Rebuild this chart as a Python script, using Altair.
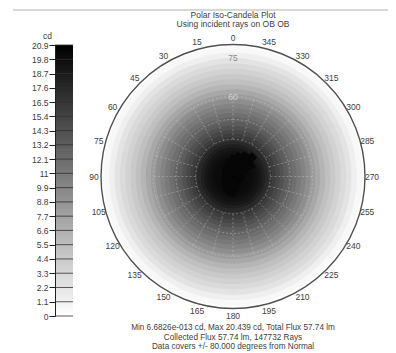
import math
import altair as alt
import pandas as pd

# ---------------- data ----------------
# polar angle from normal (deg) and candela value of the (nearly radial) distribution
profile_deg = [0, 2, 4, 6, 8, 10, 12, 14, 16, 18,
               20, 22, 24, 26, 28, 30, 32, 34, 36, 38,
               40, 42, 44, 46, 48, 50, 52, 54, 56, 58,
               60, 62, 64, 66, 68, 70, 72, 74, 76, 78, 80]
profile_cd = [20.0, 20.0, 20.0, 20.0, 20.0, 20.0, 20.0, 20.0, 20.0, 20.0,
              20.0, 20.0, 20.0, 20.0, 19.9, 19.7, 19.4, 19.0, 18.4, 17.6,
              16.7, 15.9, 15.1, 14.3, 13.4, 12.6, 11.8, 11.0, 10.2, 9.3,
              8.2, 7.1, 6.1, 5.2, 4.4, 3.7, 3.0, 2.3, 1.3, 0.6, 0.2]

# darkest core (peak value) outline: azimuth (deg, ccw from top) and polar extent (deg)
core_cd = 20.439
core_az = [0, 15, 30, 45, 60, 75, 90, 105, 120, 135, 150, 165,
           180, 195, 210, 225, 240, 255, 270, 285, 300, 315, 330, 345]
core_extent = [30.3, 28.0, 25.8, 24.0, 22.5, 21.4, 21.4, 22.0, 23.5, 25.0, 27.0, 28.5,
               28.9, 25.8, 22.3, 20.4, 20.9, 21.4, 22.3, 25.8, 32.0, 36.0, 34.0, 32.0]

legend_ticks = [0, 1.1, 2.2, 3.3, 4.4, 5.5, 6.6, 7.7, 8.8, 9.9, 11,
                12.1, 13.2, 14.3, 15.4, 16.5, 17.6, 18.7, 19.8, 20.9]
legend_unit = "cd"
azimuth_labels = list(range(0, 360, 15))
grid_ring_deg = [40, 50, 60]
spoke_range_deg = [40, 60]
radial_labels = [75, 60]
data_limit_deg = 80
title_lines = ["Polar Iso-Candela Plot", "Using incident rays on OB OB"]
footer_lines = ["Min 6.6826e-013 cd, Max 20.439 cd, Total Flux 57.74 lm",
                "Collected Flux 57.74 lm, 147732 Rays",
                "Data covers +/- 80.000 degrees from Normal"]

# ---------------- layout ----------------
W, H = 380, 343
CX, CY, R = 225, 168.5, 132
BAR_X0, BAR_X1 = 47, 65
FONT = "Liberation Sans"
TXT = "#404040"
CD_MAX = legend_ticks[-1]
PMAX = 1 - math.cos(math.radians(data_limit_deg))
PROJ = "1 - cos({} * PI / 180)"

rscale = alt.Scale(type="linear", domain=[0, PMAX], range=[0, R], zero=True, nice=False)
cscale = alt.Scale(domain=[0, CD_MAX], range=["#ffffff", "#000000"], interpolate="rgb")
cdscale = alt.Scale(domain=[0, CD_MAX], range=[308, 37], nice=False, zero=True)
tscale = alt.Scale(domain=[0, 360], range=[0, 2 * math.pi])
center = dict(x=alt.value(CX), y=alt.value(CY))
FULL = dict(theta=0, theta2=2 * math.pi)


def rad(field="rr:Q"):
    return alt.Radius(field, scale=rscale, stack=False)


# heat map: concentric discs, largest drawn first
heat_df = pd.DataFrame({"deg": profile_deg, "cd": profile_cd}).iloc[::-1].reset_index(drop=True)
heat = alt.Chart(heat_df).transform_calculate(
    outer=f"min(datum.deg + 1, {data_limit_deg})"
).transform_calculate(
    rr=PROJ.format("datum.outer")
).mark_arc(**FULL).encode(
    **center,
    radius=rad(),
    color=alt.Color("cd:Q", scale=cscale, legend=None),
    order=alt.Order("deg:Q", sort="descending"),
)

# darkest core: wedges of 15 degrees azimuth
core_df = pd.DataFrame({"az": core_az, "ext": core_extent, "cd": [core_cd] * len(core_az)})
core = alt.Chart(core_df).transform_calculate(
    t0="360 - datum.az - 7.6", t1="360 - datum.az + 7.6", rr=PROJ.format("datum.ext")
).mark_arc().encode(
    **center,
    theta=alt.Theta("t0:Q", scale=tscale, stack=False), theta2="t1:Q",
    radius=rad(),
    color=alt.Color("cd:Q", scale=cscale, legend=None),
)

rings = alt.Chart(pd.DataFrame({"deg": grid_ring_deg})).transform_calculate(
    rr=PROJ.format("datum.deg")
).mark_arc(filled=False, stroke="#d8d8d8", strokeWidth=0.8, strokeDash=[2, 2],
           opacity=0.45, **FULL).encode(**center, radius=rad())

outer = alt.Chart(pd.DataFrame({"deg": [data_limit_deg]})).transform_calculate(
    rr=PROJ.format("datum.deg")
).mark_arc(filled=False, stroke="#505050", strokeWidth=1.4, **FULL).encode(
    **center, radius=rad())

# radial spokes every 15 degrees (cartesian scales centred on the polar origin)
xsc = alt.Scale(domain=[-PMAX, PMAX], range=[CX - R, CX + R], nice=False, zero=False)
ysc = alt.Scale(domain=[-PMAX, PMAX], range=[CY + R, CY - R], nice=False, zero=False)
spokes = alt.Chart(pd.DataFrame({"az": azimuth_labels})).transform_calculate(
    p0=PROJ.format(spoke_range_deg[0]), p1=PROJ.format(spoke_range_deg[1])
).transform_calculate(
    x0="-datum.p0 * sin(datum.az * PI / 180)", y0="datum.p0 * cos(datum.az * PI / 180)",
    x1="-datum.p1 * sin(datum.az * PI / 180)", y1="datum.p1 * cos(datum.az * PI / 180)",
).mark_rule(stroke="#d8d8d8", strokeWidth=0.8, strokeDash=[2, 2], opacity=0.45).encode(
    x=alt.X("x0:Q", scale=xsc, axis=None), x2="x1:Q",
    y=alt.Y("y0:Q", scale=ysc, axis=None), y2="y1:Q",
)

# azimuth labels (counter-clockwise from top)
az_text = alt.Chart(pd.DataFrame({"az": azimuth_labels})).transform_calculate(
    t="(360 - datum.az) % 360"
).mark_text(font=FONT, fontSize=8.5, color=TXT, align="center", baseline="middle").encode(
    **center,
    theta=alt.Theta("t:Q", scale=tscale, stack=False),
    radius=alt.value(139),
    text="az:N",
)

rad_text = alt.Chart(pd.DataFrame({"deg": radial_labels})).transform_calculate(
    rr=PROJ.format("datum.deg")
).mark_text(font=FONT, fontSize=8.5, align="center", baseline="middle").encode(
    **center,
    theta=alt.value(0),
    radius=rad(),
    text="deg:N",
    fill=alt.Fill("deg:N", scale=alt.Scale(domain=radial_labels, range=["#8c8c8c", "#cfcfcf"]),
                  legend=None),
)

# colour bar
bar = alt.Chart(alt.sequence(0, CD_MAX, 0.1, as_="v")).transform_calculate(
    v2=f"min(datum.v + 0.2, {CD_MAX})"
).mark_rect().encode(
    x=alt.value(BAR_X0), x2=alt.value(BAR_X1),
    y=alt.Y("v:Q", scale=cdscale, axis=alt.Axis(
        values=legend_ticks, labelExpr="'' + datum.value", offset=-BAR_X0, zindex=2,
        domain=True, domainColor="#202020", ticks=True, tickSize=6, tickColor="#202020",
        labelFont=FONT, labelFontSize=8.5, labelColor=TXT, labelPadding=1,
        labelFlush=False, labelOverlap=False, grid=False,
        title=legend_unit, titleAngle=0, titleX=-8, titleY=27, titleAlign="center",
        titleBaseline="middle", titleFont=FONT, titleFontSize=8.5, titleFontWeight="normal",
        titleColor=TXT)),
    y2="v2:Q",
    color=alt.Color("v:Q", scale=cscale, legend=None),
)
bar_lines = alt.Chart(pd.DataFrame({"v": legend_ticks})).mark_rule(
    stroke="#303030", strokeWidth=0.8).encode(
    x=alt.value(BAR_X0), x2=alt.value(BAR_X1),
    y=alt.Y("v:Q", scale=cdscale, axis=None),
)

title = alt.Chart(pd.DataFrame({"s": ["\n".join(title_lines)]})).mark_text(
    font=FONT, fontSize=8.5, color=TXT, align="center", baseline="alphabetic",
    lineBreak="\n", lineHeight=9.2).encode(x=alt.value(CX), y=alt.value(10.3), text="s:N")
footer = alt.Chart(pd.DataFrame({"s": ["\n".join(footer_lines)]})).mark_text(
    font=FONT, fontSize=8.2, color=TXT, align="center", baseline="alphabetic",
    lineBreak="\n", lineHeight=9.5).encode(x=alt.value(CX), y=alt.value(322.3), text="s:N")
top_rule = alt.Chart(pd.DataFrame({"k": [0]})).mark_rule(stroke="#b0b0b0", strokeWidth=1).encode(
    x=alt.value(5), x2=alt.value(W), y=alt.value(2))

chart = alt.layer(
    heat, core, rings, spokes, outer, az_text, rad_text, bar, bar_lines, title, footer, top_rule
).resolve_scale(x="independent", y="independent").properties(
    width=W, height=H, padding=0, autosize=alt.AutoSizeParams(type="none"),
).configure_view(stroke=None)

chart.save("out.html", embed_options={"renderer": "svg", "actions": False})
